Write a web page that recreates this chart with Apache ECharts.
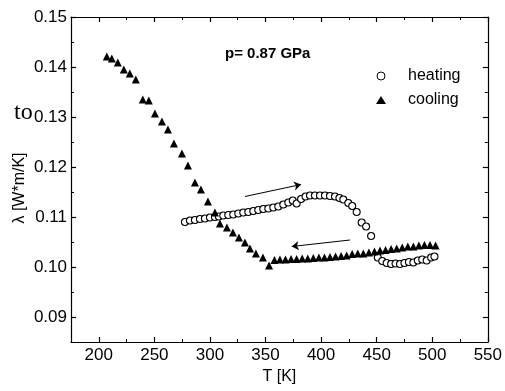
<!DOCTYPE html>
<html>
<head>
<meta charset="utf-8">
<script src="https://cdn.jsdelivr.net/npm/echarts@6/dist/echarts.min.js"></script>
<style>html,body{margin:0;padding:0;background:#fff}#c{width:505px;height:391px}</style>
</head>
<body>
<div id="c"></div>
<script>
// ---- data ----
var heatingT = [277.5,282,286.5,291,295.5,300,304.5,308,312,316.5,321,325.5,330,334.5,339,343.5,348,352.5,357,361.5,366,370.5,374.5,378,382,386,390,394.5,399,403.5,408,412.5,416.5,420,424.5,428,432,436.5,440.5,445,451,455,459,463,467,471,475,479,483,487,491,495,499,502];
var heatingL = [0.1090,0.1093,0.1094,0.1096,0.1097,0.1099,0.1100,0.1101,0.1103,0.1104,0.1105,0.1107,0.1109,0.1110,0.1112,0.1114,0.1116,0.1117,0.1119,0.1121,0.1125,0.1129,0.1133,0.1127,0.1136,0.1141,0.1143,0.1143,0.1143,0.1143,0.1142,0.1141,0.1138,0.1135,0.1128,0.1122,0.1110,0.1089,0.1081,0.1062,0.1019,0.1012,0.1008,0.1006,0.1007,0.1006,0.1008,0.1010,0.1009,0.1013,0.1015,0.1013,0.1019,0.1021];
var coolingT = [207.2,211.7,217.1,222.5,227.9,233.3,239.6,245,250.5,256.8,262.2,267.6,274.8,280.2,286.5,291.9,298.2,304.5,309,315.3,320.7,326.1,331.5,336,341.4,347.7,353.2,358,363,368,373,378,383,388,393,398,403,408,413,418,423,428,433,438,443,448,453,458,463,468,473,478,483,488,493,498,503];
var coolingL = [0.1421,0.1417,0.1409,0.1395,0.1387,0.1375,0.1335,0.1333,0.1307,0.1291,0.1275,0.1247,0.1227,0.1203,0.1169,0.1155,0.1131,0.1109,0.1087,0.1079,0.1069,0.1059,0.1049,0.1037,0.1027,0.1019,0.1003,0.1014,0.1015,0.1015,0.1016,0.1016,0.1017,0.1017,0.1018,0.1019,0.1019,0.1020,0.1021,0.1022,0.1023,0.1026,0.1027,0.1027,0.1029,0.1031,0.1033,0.1034,0.1036,0.1037,0.1039,0.1041,0.1041,0.1043,0.1044,0.1044,0.1043];
var xTickLabels = [200,250,300,350,400,450,500,550];
var yTickLabels = [0.09,0.10,0.11,0.12,0.13,0.14,0.15];
var arrowHeating = [[331.5,0.1141],[382,0.1165]];
var arrowCooling = [[426,0.1054],[373.6,0.1041]];
var seriesNames = ['heating','cooling'];
var pressureText = 'p= 0.87 GPa';

function zip(a,b){return a.map(function(v,i){return [v,b[i]];});}

var FONT = '"Liberation Sans", Arial, sans-serif';
var chart = echarts.init(document.getElementById('c'), null, {renderer:'canvas'});

function xAxisMajor(pos, labels){
  return {type:'value', position:pos, min:175, max:550, interval:25,
    axisLine:{show:true, onZero:false, lineStyle:{color:'#000', width:1.2}},
    axisTick:{show:true, inside:true, length:5, customValues:xTickLabels, lineStyle:{color:'#000', width:1.2}},
    axisLabel:{show:labels, customValues:xTickLabels, color:'#000', fontSize:17, fontFamily:FONT, margin:5},
    splitLine:{show:false},
    name: labels ? 'T [K]' : '', nameLocation:'middle', nameGap:24,
    nameTextStyle:{color:'#000', fontSize:16, fontFamily:FONT}};
}
function xAxisMinor(pos){
  return {type:'value', position:pos, min:175, max:550, interval:25,
    axisLine:{show:false, onZero:false}, axisTick:{show:true, inside:true, length:3, lineStyle:{color:'#000', width:1}},
    axisLabel:{show:false}, splitLine:{show:false}};
}
function yAxisMajor(pos, labels){
  return {type:'value', position:pos, min:0.085, max:0.15, interval:0.005,
    axisLine:{show:true, onZero:false, lineStyle:{color:'#000', width:1.2}},
    axisTick:{show:true, inside:true, length:5, customValues:yTickLabels, lineStyle:{color:'#000', width:1.2}},
    axisLabel:{show:labels, customValues:yTickLabels, color:'#000', fontSize:17, fontFamily:FONT, margin:4,
      formatter:function(v){return v.toFixed(2);}},
    splitLine:{show:false}};
}
function yAxisMinor(pos){
  return {type:'value', position:pos, min:0.085, max:0.15, interval:0.005,
    axisLine:{show:false, onZero:false}, axisTick:{show:true, inside:true, length:3, lineStyle:{color:'#000', width:1}},
    axisLabel:{show:false}, splitLine:{show:false}};
}

function arrowLine(pts){
  return [{coord:pts[0]},{coord:pts[1]}];
}

chart.setOption({
  animation:false,
  backgroundColor:'#fff',
  grid:{left:71, right:17, top:17, bottom:49, containLabel:false},
  xAxis:[xAxisMajor('bottom', true), xAxisMinor('bottom'), xAxisMajor('top', false), xAxisMinor('top')],
  yAxis:[yAxisMajor('left', true), yAxisMinor('left'), yAxisMajor('right', false), yAxisMinor('right')],
  legend:{show:true, orient:'vertical', left:371, top:63, itemWidth:10, itemHeight:8, itemGap:8,
    data:[{name:seriesNames[0], itemStyle:{borderWidth:1}}, {name:seriesNames[1]}],
    textStyle:{color:'#000', fontSize:16, fontFamily:FONT, lineHeight:16, padding:[0,0,0,17]}},
  graphic:[
    {type:'text', left:225, top:46, style:{text:pressureText, fill:'#000', font:'bold 15px ' + FONT}},
    {type:'text', x:14, y:101, style:{text:'to', fill:'#000', font:'24px "Liberation Serif", "Times New Roman", serif', verticalAlign:'alphabetic'}},
    {type:'text', x:20, y:188, rotation:Math.PI/2, style:{text:'λ [W*m/K]', fill:'#000', font:'16px ' + FONT, align:'center', verticalAlign:'middle'}}
  ],
  series:[
    {name:seriesNames[0], type:'scatter', data:zip(heatingT, heatingL), symbol:'circle', symbolSize:7,
      itemStyle:{color:'#fff', borderColor:'#000', borderWidth:1.1, opacity:1},
      markLine:{silent:true, symbol:['none','arrow'], symbolSize:7, label:{show:false},
        lineStyle:{color:'#000', width:1, type:'solid'}, data:[arrowLine(arrowHeating)]}},
    {name:seriesNames[1], type:'scatter', data:zip(coolingT, coolingL), symbol:'triangle', symbolSize:8,
      itemStyle:{color:'#000', opacity:1},
      markLine:{silent:true, symbol:['none','arrow'], symbolSize:7, label:{show:false},
        lineStyle:{color:'#000', width:1, type:'solid'}, data:[arrowLine(arrowCooling)]}}
  ]
});
</script>
</body>
</html>
